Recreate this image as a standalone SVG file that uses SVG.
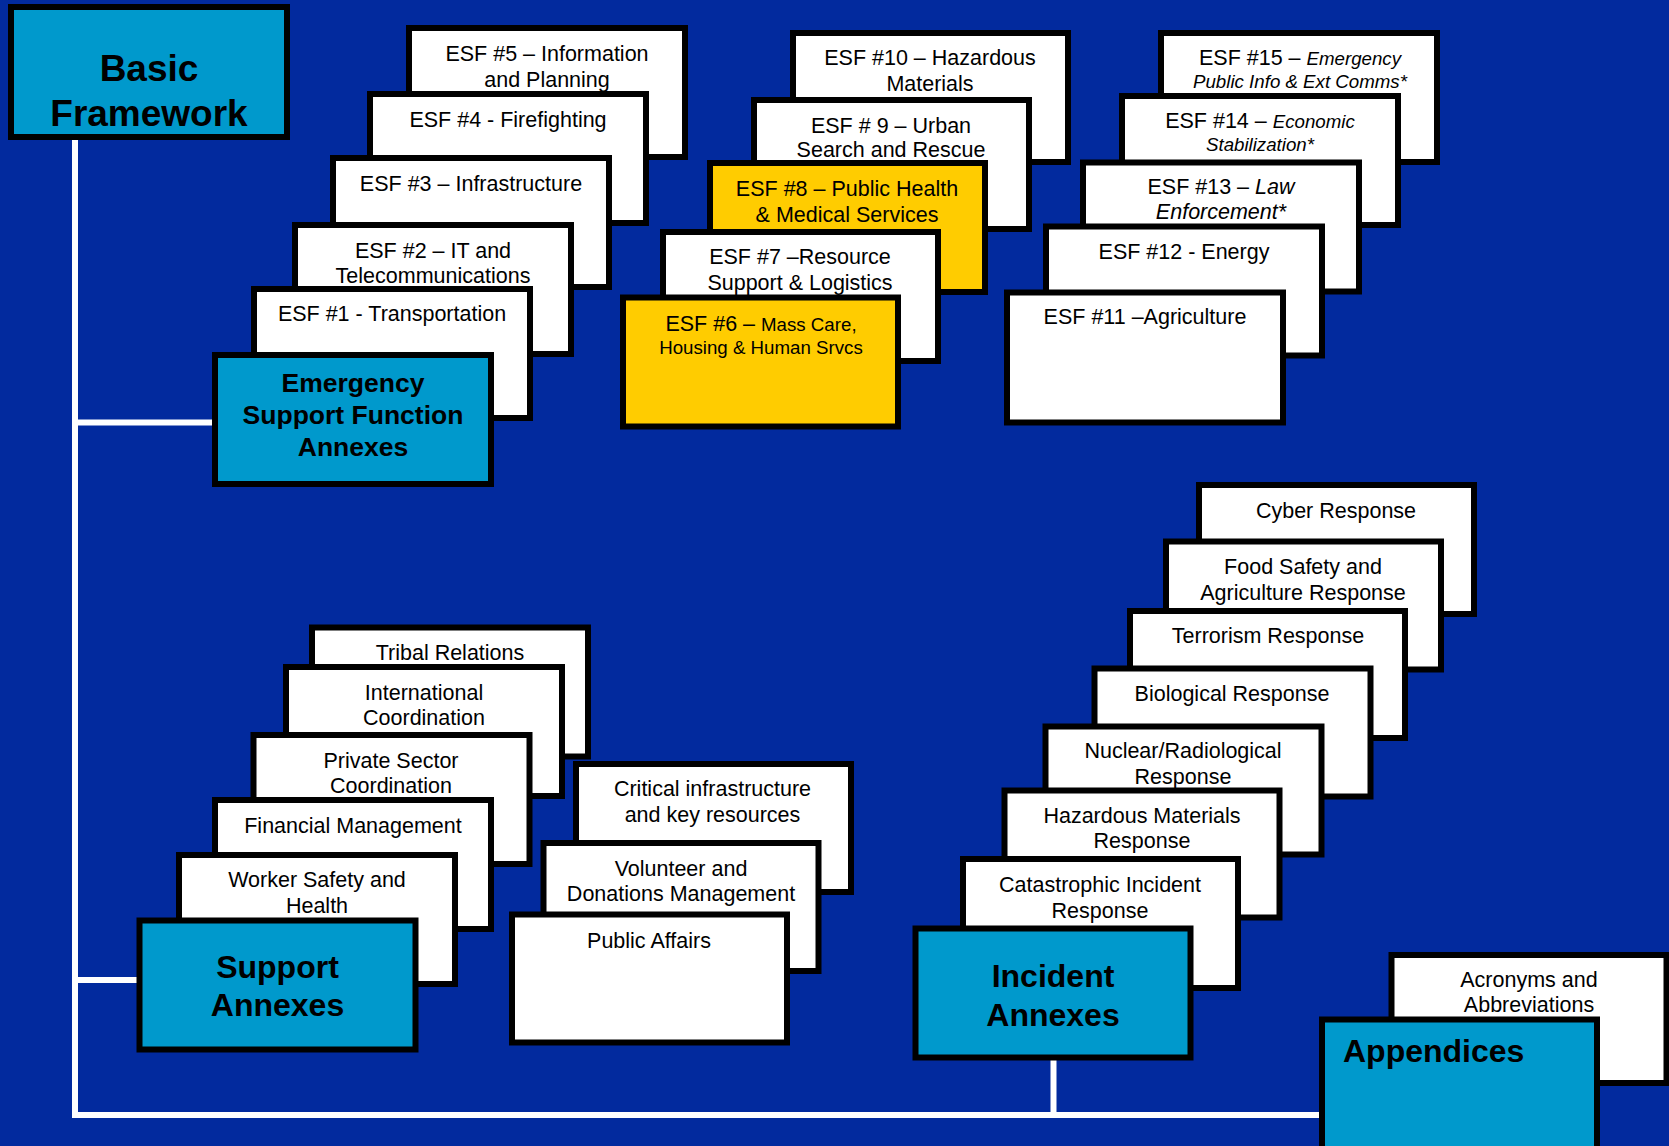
<svg xmlns="http://www.w3.org/2000/svg" width="1669" height="1146" viewBox="0 0 1669 1146">
<style>
.bx{fill:#FFFFFF;stroke:#000000;stroke-width:6}
.cy{fill:#0099CC;stroke:#000000;stroke-width:6}
.ye{fill:#FFCC00;stroke:#000000;stroke-width:6}
.conn{stroke:#FFFFFF;stroke-width:6;fill:none}
text{font-family:"Liberation Sans",Arial,sans-serif;fill:#000000;text-anchor:middle}
.t{font-size:21.5px}
.s{font-size:18.7px}
.i{font-style:italic}
.h1{font-size:37px;font-weight:bold}
.h2{font-size:26.5px;font-weight:bold}
.h3{font-size:32px;font-weight:bold}
</style>
<rect x="0" y="0" width="1669" height="1146" fill="#022A9E"/>

<g id="connectors">
<path class="conn" d="M75 140 V1115 H1320"/>
<path class="conn" d="M75 422.5 H213"/>
<path class="conn" d="M75 980 H138"/>
<path class="conn" d="M1053.5 1060 V1115"/>
</g>

<g id="basic-framework">
<rect class="cy" x="11" y="7" width="276" height="130"/>
<text class="h1" x="149" y="81">Basic</text>
<text class="h1" x="149" y="126">Framework</text>
</g>

<!-- ESF stack left -->
<g id="esf5"><rect class="bx" x="409" y="28" width="276" height="129"/>
<text class="t" x="547" y="61">ESF #5 – Information</text><text class="t" x="547" y="87">and Planning</text></g>
<g id="esf4"><rect class="bx" x="370" y="94" width="276" height="129"/>
<text class="t" x="508" y="127">ESF #4 - Firefighting</text></g>
<g id="esf3"><rect class="bx" x="333" y="158" width="276" height="129"/>
<text class="t" x="471" y="191">ESF #3 – Infrastructure</text></g>
<g id="esf2"><rect class="bx" x="295" y="225" width="276" height="129"/>
<text class="t" x="433" y="258">ESF #2 – IT and</text><text class="t" x="433" y="283">Telecommunications</text></g>
<g id="esf1"><rect class="bx" x="254" y="289" width="276" height="129"/>
<text class="t" x="392" y="321">ESF #1 - Transportation</text></g>
<g id="esf-annexes"><rect class="cy" x="215" y="355" width="276" height="129"/>
<text class="h2" x="353" y="392">Emergency</text><text class="h2" x="353" y="424">Support Function</text><text class="h2" x="353" y="456">Annexes</text></g>

<!-- ESF stack middle -->
<g id="esf10"><rect class="bx" x="793" y="33" width="275" height="129"/>
<text class="t" x="930" y="65">ESF #10 – Hazardous</text><text class="t" x="930" y="91">Materials</text></g>
<g id="esf9"><rect class="bx" x="754" y="100" width="275" height="129"/>
<text class="t" x="891" y="133">ESF # 9 – Urban</text><text class="t" x="891" y="157">Search and Rescue</text></g>
<g id="esf8"><rect class="ye" x="710" y="163" width="275" height="129"/>
<text class="t" x="847" y="196">ESF #8 – Public Health</text><text class="t" x="847" y="222">&amp; Medical Services</text></g>
<g id="esf7"><rect class="bx" x="663" y="232" width="275" height="129"/>
<text class="t" x="800" y="264">ESF #7 –Resource</text><text class="t" x="800" y="290">Support &amp; Logistics</text></g>
<g id="esf6"><rect class="ye" x="623" y="297.5" width="275" height="129"/>
<text class="t" x="761" y="330.5">ESF #6 – <tspan class="s">Mass Care,</tspan></text><text class="s" x="761" y="354">Housing &amp; Human Srvcs</text></g>

<!-- ESF stack right -->
<g id="esf15"><rect class="bx" x="1161" y="33" width="276" height="129"/>
<text class="t" x="1300" y="65">ESF #15 – <tspan class="s i">Emergency</tspan></text><text class="s i" x="1300" y="88">Public Info &amp; Ext Comms*</text></g>
<g id="esf14"><rect class="bx" x="1122" y="96" width="276" height="129"/>
<text class="t" x="1260" y="128">ESF #14 – <tspan class="s i">Economic</tspan></text><text class="s i" x="1260" y="150.5">Stabilization*</text></g>
<g id="esf13"><rect class="bx" x="1083" y="162.5" width="276" height="129"/>
<text class="t" x="1221" y="194">ESF #13 – <tspan class="i">Law</tspan></text><text class="t i" x="1221" y="218.5">Enforcement*</text></g>
<g id="esf12"><rect class="bx" x="1046" y="226.5" width="276" height="129"/>
<text class="t" x="1184" y="258.5">ESF #12 - Energy</text></g>
<g id="esf11"><rect class="bx" x="1007" y="292.5" width="276" height="130"/>
<text class="t" x="1145" y="323.5">ESF #11 –Agriculture</text></g>

<!-- Support stack -->
<g id="tribal"><rect class="bx" x="312" y="627.5" width="276" height="129"/>
<text class="t" x="450" y="660">Tribal Relations</text></g>
<g id="international"><rect class="bx" x="286" y="667" width="276" height="129"/>
<text class="t" x="424" y="699.5">International</text><text class="t" x="424" y="724.5">Coordination</text></g>
<g id="private-sector"><rect class="bx" x="253.5" y="735" width="276" height="129"/>
<text class="t" x="391" y="768">Private Sector</text><text class="t" x="391" y="793">Coordination</text></g>
<g id="financial"><rect class="bx" x="215" y="800" width="276" height="129"/>
<text class="t" x="353" y="833">Financial Management</text></g>
<g id="worker-safety"><rect class="bx" x="179" y="855" width="276" height="129"/>
<text class="t" x="317" y="886.5">Worker Safety and</text><text class="t" x="317" y="912.5">Health</text></g>
<g id="support-annexes"><rect class="cy" x="139.5" y="920.5" width="276" height="129"/>
<text class="h3" x="277.5" y="978">Support</text><text class="h3" x="277.5" y="1016">Annexes</text></g>

<g id="critical-infrastructure"><rect class="bx" x="576" y="764" width="275" height="128"/>
<text class="t" x="712.5" y="795.5">Critical infrastructure</text><text class="t" x="712.5" y="821.5">and key resources</text></g>
<g id="volunteer"><rect class="bx" x="543.5" y="843" width="275" height="128"/>
<text class="t" x="681" y="875.5">Volunteer and</text><text class="t" x="681" y="900.5">Donations Management</text></g>
<g id="public-affairs"><rect class="bx" x="512" y="914.5" width="275" height="128"/>
<text class="t" x="649" y="947.5">Public Affairs</text></g>

<!-- Incident stack -->
<g id="cyber"><rect class="bx" x="1199" y="485" width="275" height="129"/>
<text class="t" x="1336" y="517.5">Cyber Response</text></g>
<g id="food-safety"><rect class="bx" x="1166" y="541.5" width="275" height="128"/>
<text class="t" x="1303" y="574">Food Safety and</text><text class="t" x="1303" y="599.5">Agriculture Response</text></g>
<g id="terrorism"><rect class="bx" x="1130" y="611" width="275" height="127"/>
<text class="t" x="1268" y="642.5">Terrorism Response</text></g>
<g id="biological"><rect class="bx" x="1094.5" y="668.5" width="276" height="128"/>
<text class="t" x="1232" y="700.5">Biological Response</text></g>
<g id="nuclear"><rect class="bx" x="1045.5" y="726.5" width="276" height="128"/>
<text class="t" x="1183" y="758">Nuclear/Radiological</text><text class="t" x="1183" y="784">Response</text></g>
<g id="hazmat"><rect class="bx" x="1004.5" y="790.5" width="275" height="127"/>
<text class="t" x="1142" y="822.5">Hazardous Materials</text><text class="t" x="1142" y="847.5">Response</text></g>
<g id="catastrophic"><rect class="bx" x="963" y="859" width="275" height="129"/>
<text class="t" x="1100" y="891.5">Catastrophic Incident</text><text class="t" x="1100" y="917.5">Response</text></g>
<g id="incident-annexes"><rect class="cy" x="915.5" y="928.5" width="275" height="129"/>
<text class="h3" x="1053" y="987">Incident</text><text class="h3" x="1053" y="1026">Annexes</text></g>

<g id="acronyms"><rect class="bx" x="1391.5" y="955" width="275" height="128"/>
<text class="t" x="1529" y="986.5">Acronyms and</text><text class="t" x="1529" y="1012">Abbreviations</text></g>
<g id="appendices"><rect class="cy" x="1322" y="1019.5" width="275" height="140"/>
<text class="h3" x="1343" y="1061.5" style="text-anchor:start">Appendices</text></g>
</svg>
